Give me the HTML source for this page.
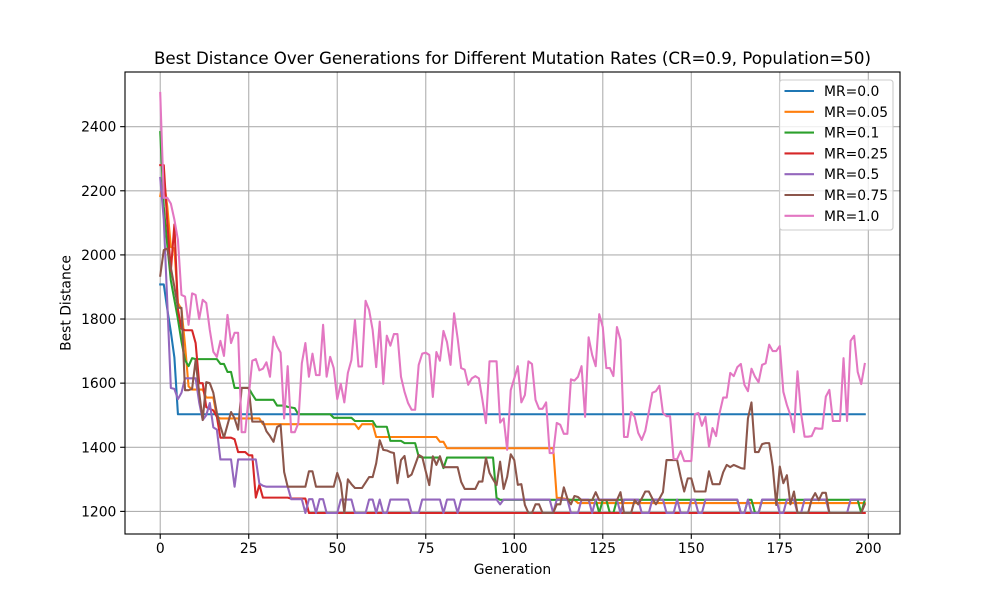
<!DOCTYPE html>
<html>
<head>
<meta charset="utf-8">
<title>Best Distance Over Generations</title>
<style>
html,body{margin:0;padding:0;background:#fff;}
svg{display:block;font-family:"DejaVu Sans",sans-serif;}
</style>
</head>
<body>
<svg id="chart" xmlns="http://www.w3.org/2000/svg" width="1000" height="600" viewBox="0 0 1000 600">
  <rect x="0" y="0" width="1000" height="600" fill="#ffffff"/>
  <defs><clipPath id="plot-clip"><rect x="125" y="72" width="775" height="462"/></clipPath></defs>
  <g id="grid"></g>
  <g id="series" clip-path="url(#plot-clip)"></g>
  <rect x="125" y="72" width="775" height="462" fill="none" stroke="#000" stroke-width="1.11"/>
  <g id="ticks"></g>
  <text x="512.5" y="64" text-anchor="middle" font-size="16.67" fill="#000" textLength="717" lengthAdjust="spacing">Best Distance Over Generations for Different Mutation Rates (CR=0.9, Population=50)</text>
  <text x="512.5" y="574" text-anchor="middle" font-size="13.89" fill="#000">Generation</text>
  <text transform="translate(70.5 303) rotate(-90)" text-anchor="middle" font-size="13.89" fill="#000">Best Distance</text>
  <g id="legend">
    <rect x="779.5" y="80" width="113.5" height="150" rx="2.8" fill="#ffffff" fill-opacity="0.8" stroke="#cccccc" stroke-width="1.11"/>
  </g>
</svg>
<script>
const xTickLabels = [0, 25, 50, 75, 100, 125, 150, 175, 200];
const yTickLabels = [1200, 1400, 1600, 1800, 2000, 2200, 2400];
const seriesNames = ["MR=0.0", "MR=0.05", "MR=0.1", "MR=0.25", "MR=0.5", "MR=0.75", "MR=1.0"];
const seriesColors = ["#1f77b4", "#ff7f0e", "#2ca02c", "#d62728", "#9467bd", "#8c564b", "#e377c2"];

const mr00 = [
1908,1908,1830,1760,1680,1503,1503,1503,1503,1503,
1503,1503,1503,1503,1503,1503,1503,1503,1503,1503,
1503,1503,1503,1503,1503,1503,1503,1503,1503,1503,
1503,1503,1503,1503,1503,1503,1503,1503,1503,1503,
1503,1503,1503,1503,1503,1503,1503,1503,1503,1503,
1503,1503,1503,1503,1503,1503,1503,1503,1503,1503,
1503,1503,1503,1503,1503,1503,1503,1503,1503,1503,
1503,1503,1503,1503,1503,1503,1503,1503,1503,1503,
1503,1503,1503,1503,1503,1503,1503,1503,1503,1503,
1503,1503,1503,1503,1503,1503,1503,1503,1503,1503,
1503,1503,1503,1503,1503,1503,1503,1503,1503,1503,
1503,1503,1503,1503,1503,1503,1503,1503,1503,1503,
1503,1503,1503,1503,1503,1503,1503,1503,1503,1503,
1503,1503,1503,1503,1503,1503,1503,1503,1503,1503,
1503,1503,1503,1503,1503,1503,1503,1503,1503,1503,
1503,1503,1503,1503,1503,1503,1503,1503,1503,1503,
1503,1503,1503,1503,1503,1503,1503,1503,1503,1503,
1503,1503,1503,1503,1503,1503,1503,1503,1503,1503,
1503,1503,1503,1503,1503,1503,1503,1503,1503,1503,
1503,1503,1503,1503,1503,1503,1503,1503,1503,1503];

const mr005 = [
2184,2240,2150,2025,2020,1850,1830,1720,1590,1580,
1580,1580,1580,1555,1555,1555,1495,1490,1490,1490,
1490,1490,1490,1490,1490,1490,1490,1490,1490,1472,
1472,1472,1472,1472,1472,1472,1472,1472,1472,1472,
1472,1472,1472,1472,1472,1472,1472,1472,1472,1472,
1472,1472,1472,1472,1472,1472,1457,1472,1472,1472,
1472,1432,1432,1432,1432,1432,1432,1432,1432,1432,
1432,1432,1432,1432,1432,1432,1432,1432,1432,1417,
1417,1397,1397,1397,1397,1397,1397,1397,1397,1397,
1397,1397,1397,1397,1397,1397,1397,1397,1397,1397,
1397,1397,1397,1397,1397,1397,1397,1397,1397,1397,
1397,1397,1242,1242,1240,1238,1236,1236,1226,1226,
1226,1226,1226,1226,1226,1226,1226,1226,1226,1226,
1226,1226,1226,1226,1226,1226,1226,1226,1226,1226,
1226,1226,1226,1226,1226,1226,1226,1226,1226,1226,
1226,1226,1226,1226,1226,1226,1226,1226,1226,1226,
1226,1226,1226,1226,1226,1226,1226,1226,1226,1226,
1226,1226,1226,1226,1226,1226,1226,1226,1226,1226,
1226,1226,1226,1226,1226,1226,1226,1226,1226,1226,
1226,1226,1226,1226,1226,1226,1226,1226,1226,1226];

const mr01 = [
2383,2150,2030,1920,1860,1800,1730,1672,1653,1678,
1675,1675,1675,1675,1675,1675,1675,1660,1660,1635,
1635,1585,1585,1585,1585,1585,1565,1548,1548,1548,
1548,1548,1548,1530,1530,1530,1526,1524,1522,1503,
1503,1503,1503,1503,1503,1503,1503,1503,1503,1492,
1492,1492,1492,1492,1492,1482,1482,1482,1482,1482,
1482,1464,1464,1464,1464,1420,1420,1420,1420,1413,
1413,1413,1413,1371,1368,1368,1368,1368,1368,1368,
1335,1368,1368,1368,1368,1368,1368,1368,1368,1368,
1368,1368,1368,1368,1368,1242,1236,1236,1236,1236,
1236,1236,1236,1236,1236,1236,1236,1236,1236,1236,
1236,1236,1236,1236,1236,1236,1236,1236,1236,1236,
1236,1236,1236,1236,1195,1236,1236,1195,1195,1236,
1236,1236,1236,1236,1236,1236,1236,1236,1236,1236,
1236,1236,1236,1236,1236,1236,1236,1236,1236,1236,
1236,1236,1236,1236,1236,1236,1236,1236,1236,1236,
1236,1236,1236,1236,1195,1195,1236,1236,1195,1195,
1236,1236,1236,1236,1236,1236,1236,1236,1236,1236,
1236,1236,1236,1236,1236,1236,1236,1236,1236,1236,
1236,1236,1236,1236,1236,1236,1236,1236,1195,1236];

const mr025 = [
2280,2280,2100,1950,2095,1830,1770,1765,1765,1765,
1725,1600,1600,1525,1520,1515,1495,1430,1430,1430,
1430,1425,1385,1385,1385,1375,1375,1243,1283,1243,
1243,1243,1243,1243,1243,1243,1243,1240,1240,1240,
1240,1240,1195,1195,1195,1195,1195,1195,1195,1195,
1195,1195,1195,1195,1195,1195,1195,1195,1195,1195,
1195,1195,1195,1195,1195,1195,1195,1195,1195,1195,
1195,1195,1195,1195,1195,1195,1195,1195,1195,1195,
1195,1195,1195,1195,1195,1195,1195,1195,1195,1195,
1195,1195,1195,1195,1195,1195,1195,1195,1195,1195,
1195,1195,1195,1195,1195,1195,1195,1195,1195,1195,
1195,1195,1195,1195,1195,1195,1195,1195,1195,1195,
1195,1195,1195,1195,1195,1195,1195,1195,1195,1195,
1195,1195,1195,1195,1195,1195,1195,1195,1195,1195,
1195,1195,1195,1195,1195,1195,1195,1195,1195,1195,
1195,1195,1195,1195,1195,1195,1195,1195,1195,1195,
1195,1195,1195,1195,1195,1195,1195,1195,1195,1195,
1195,1195,1195,1195,1195,1195,1195,1195,1195,1195,
1195,1195,1195,1195,1195,1195,1195,1195,1195,1195,
1195,1195,1195,1195,1195,1195,1195,1195,1195,1195];

const mr05 = [
2240,2110,1850,1585,1582,1550,1570,1615,1615,1615,
1615,1540,1485,1500,1538,1462,1455,1362,1362,1362,
1362,1277,1362,1362,1362,1362,1362,1362,1287,1280,
1277,1277,1277,1277,1277,1277,1277,1238,1238,1238,
1238,1195,1238,1238,1195,1238,1238,1195,1195,1195,
1195,1237,1237,1237,1237,1195,1195,1195,1195,1237,
1237,1195,1237,1195,1195,1237,1237,1237,1237,1237,
1237,1195,1195,1195,1237,1237,1237,1237,1237,1237,
1195,1237,1237,1237,1195,1237,1237,1237,1237,1237,
1237,1237,1237,1237,1237,1237,1222,1237,1237,1237,
1237,1237,1237,1237,1237,1237,1237,1237,1237,1237,
1237,1195,1237,1237,1237,1237,1195,1195,1195,1237,
1237,1237,1195,1237,1237,1237,1237,1237,1237,1237,
1195,1237,1237,1237,1237,1237,1195,1195,1195,1237,
1237,1237,1237,1195,1195,1195,1237,1195,1195,1195,
1237,1237,1195,1195,1237,1237,1237,1237,1237,1237,
1237,1237,1237,1237,1195,1195,1237,1195,1195,1195,
1237,1237,1237,1237,1237,1195,1195,1237,1237,1237,
1195,1195,1237,1237,1237,1237,1237,1237,1237,1195,
1195,1195,1195,1195,1195,1237,1237,1237,1237,1237];

const mr075 = [
1935,2015,2020,1960,1900,1835,1835,1578,1578,1582,
1672,1570,1485,1603,1600,1570,1507,1465,1430,1470,
1510,1490,1455,1585,1585,1585,1480,1480,1480,1480,
1450,1435,1417,1463,1470,1323,1277,1277,1277,1277,
1277,1277,1325,1325,1277,1277,1277,1277,1277,1277,
1320,1288,1195,1300,1285,1273,1273,1273,1290,1307,
1307,1350,1422,1392,1390,1385,1382,1288,1360,1373,
1307,1315,1345,1376,1370,1325,1282,1372,1345,1372,
1338,1338,1338,1338,1338,1292,1270,1270,1270,1270,
1293,1293,1367,1320,1300,1282,1355,1270,1308,1378,
1360,1283,1285,1220,1195,1195,1222,1222,1195,1195,
1195,1195,1222,1222,1275,1240,1222,1248,1245,1235,
1235,1235,1235,1260,1235,1235,1235,1235,1235,1235,
1260,1195,1195,1195,1235,1222,1240,1262,1262,1240,
1222,1240,1260,1360,1360,1360,1360,1308,1262,1303,
1303,1262,1262,1262,1262,1325,1285,1285,1285,1322,
1345,1338,1345,1340,1335,1333,1490,1540,1385,1385,
1410,1413,1413,1340,1220,1340,1288,1313,1222,1262,
1195,1195,1195,1195,1237,1257,1235,1258,1258,1195,
1195,1195,1195,1195,1195,1195,1195,1195,1195,1222];

const mr10 = [
2505,2178,2178,2160,2110,2047,1875,1870,1782,1880,
1875,1800,1860,1850,1766,1698,1682,1732,1685,1813,
1725,1757,1757,1447,1447,1560,1670,1675,1640,1645,
1665,1620,1745,1715,1695,1490,1653,1447,1447,1475,
1662,1725,1620,1692,1625,1625,1782,1620,1682,1647,
1550,1598,1540,1632,1672,1797,1652,1652,1857,1828,
1766,1650,1792,1598,1748,1717,1753,1753,1620,1573,
1538,1517,1517,1657,1692,1695,1688,1557,1697,1670,
1763,1728,1657,1818,1740,1647,1642,1595,1615,1622,
1615,1548,1475,1668,1668,1668,1477,1490,1392,1578,
1615,1653,1540,1563,1668,1660,1548,1520,1520,1540,
1382,1382,1476,1470,1442,1442,1612,1608,1620,1653,
1495,1743,1688,1653,1815,1775,1647,1647,1622,1775,
1735,1432,1432,1510,1495,1445,1423,1451,1510,1570,
1575,1592,1507,1497,1497,1363,1363,1388,1357,1357,
1357,1503,1507,1467,1495,1402,1460,1435,1507,1555,
1555,1632,1622,1650,1660,1595,1575,1645,1620,1603,
1657,1662,1720,1700,1700,1716,1573,1532,1500,1447,
1637,1507,1433,1433,1435,1460,1458,1458,1558,1579,
1482,1482,1482,1678,1482,1732,1748,1635,1597,1660];

const seriesValues = [mr00, mr005, mr01, mr025, mr05, mr075, mr10];

const SVG_NS = "http://www.w3.org/2000/svg";
const plotLeft = 125, plotRight = 900, plotTop = 72, plotBottom = 534;

const allValues = [].concat(...seriesValues);
const seriesLength = mr00.length;
const yLow = Math.min(...allValues), yHigh = Math.max(...allValues);
const xPad = (seriesLength - 1) * 0.05, yPad = (yHigh - yLow) * 0.05;

function xScale(v) {
  return plotLeft + (v + xPad) / (seriesLength - 1 + 2 * xPad) * (plotRight - plotLeft);
}
function yScale(v) {
  return plotBottom - (v - yLow + yPad) / (yHigh - yLow + 2 * yPad) * (plotBottom - plotTop);
}
function make(tag, attrs, parent) {
  const el = document.createElementNS(SVG_NS, tag);
  for (const k in attrs) el.setAttribute(k, attrs[k]);
  parent.appendChild(el);
  return el;
}

const gridG = document.getElementById("grid");
const ticksG = document.getElementById("ticks");
const seriesG = document.getElementById("series");
const legendG = document.getElementById("legend");

xTickLabels.forEach(function (t) {
  const x = xScale(t);
  const gl = make("line", {x1: x, x2: x, y1: plotTop, y2: plotBottom, stroke: "#b0b0b0", "stroke-width": 1.11}, gridG);
  
  
  const tk = make("line", {x1: x, x2: x, y1: plotBottom, y2: plotBottom + 4.86, stroke: "#000", "stroke-width": 1.11}, ticksG);
  
  
  const lb = make("text", {x: x, y: 553, "text-anchor": "middle", "font-size": 13.89, fill: "#000"}, ticksG);
  
  
  lb.textContent = String(t);
});

yTickLabels.forEach(function (t) {
  const y = yScale(t);
  const gl = make("line", {x1: plotLeft, x2: plotRight, y1: y, y2: y, stroke: "#b0b0b0", "stroke-width": 1.11}, gridG);
  
  
  const tk = make("line", {x1: plotLeft - 4.86, x2: plotLeft, y1: y, y2: y, stroke: "#000", "stroke-width": 1.11}, ticksG);
  
  
  const lb = make("text", {x: plotLeft - 8.6, y: y + 5, "text-anchor": "end", "font-size": 13.89, fill: "#000"}, ticksG);
  
  
  lb.textContent = String(t);
});

seriesValues.forEach(function (vals, i) {
  const pts = vals.map(function (v, g) {
    return xScale(g).toFixed(2) + "," + yScale(v).toFixed(2);
  }).join(" ");
  const line = make("polyline", {points: pts, fill: "none", stroke: seriesColors[i], "stroke-width": 2.08, "stroke-linejoin": "round", "stroke-linecap": "square"}, seriesG);
  
  

  const rowY = 91 + i * 20.8;
  const key = make("line", {x1: 784.5, x2: 814, y1: rowY, y2: rowY, stroke: seriesColors[i], "stroke-width": 2.08}, legendG);
  
  
  const label = make("text", {x: 824, y: rowY + 5, "font-size": 13.89, fill: "#000"}, legendG);
  
  
  label.textContent = seriesNames[i];
});
</script>
</body>
</html>
